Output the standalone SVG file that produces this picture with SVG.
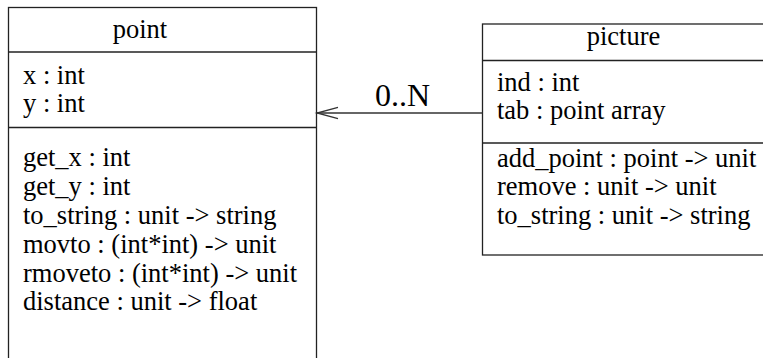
<svg xmlns="http://www.w3.org/2000/svg" width="763" height="358" viewBox="0 0 763 358">
  <style>
    .box { fill: #ffffff; stroke: #222222; stroke-width: 1.3; }
    .sep { stroke: #222222; stroke-width: 1.3; }
    text { font-family: 'Liberation Serif', Tinos, 'Times New Roman', Times, 'DejaVu Serif', serif; fill: #000000; }
    .t { font-size: 26.5px; }
    .h { text-anchor: middle; }
    .edge { stroke: #333333; stroke-width: 1.3; fill: none; }
    .lbl { font-size: 32px; }
  </style>
  <rect width="763" height="358" fill="#ffffff"/>

  <!-- class point -->
  <g id="point">
    <rect class="box" x="8.5" y="7.5" width="308" height="370"/>
    <line class="sep" x1="8.5" y1="52" x2="316.5" y2="52"/>
    <line class="sep" x1="8.5" y1="127.5" x2="316.5" y2="127.5"/>
    <text class="t h" x="140" y="38">point</text>
    <text class="t" x="23" y="83.5">x : int</text>
    <text class="t" x="23" y="112">y : int</text>
    <text class="t" x="23" y="166">get_x : int</text>
    <text class="t" x="23" y="195">get_y : int</text>
    <text class="t" x="23" y="224">to_string : unit -&gt; string</text>
    <text class="t" x="23" y="253">movto : (int*int) -&gt; unit</text>
    <text class="t" x="23" y="282">rmoveto : (int*int) -&gt; unit</text>
    <text class="t" x="23" y="310">distance : unit -&gt; float</text>
  </g>

  <!-- class picture -->
  <g id="picture">
    <rect class="box" x="482.5" y="24" width="300" height="231"/>
    <line class="sep" x1="482.5" y1="60.5" x2="782.5" y2="60.5"/>
    <line class="sep" x1="482.5" y1="143" x2="782.5" y2="143"/>
    <text class="t h" x="623.5" y="45">picture</text>
    <text class="t" x="497" y="90.5">ind : int</text>
    <text class="t" x="497" y="119">tab : point array</text>
    <text class="t" x="497" y="167">add_point : point -&gt; unit</text>
    <text class="t" x="497" y="195">remove : unit -&gt; unit</text>
    <text class="t" x="497" y="223.5">to_string : unit -&gt; string</text>
  </g>

  <!-- association picture -> point -->
  <g id="connectors">
    <line class="edge" x1="482.5" y1="113" x2="317" y2="113"/>
    <polyline class="edge" points="338,107.3 317,113 338,118.7"/>
    <text class="lbl" x="375" y="106">0..N</text>
  </g>
</svg>
